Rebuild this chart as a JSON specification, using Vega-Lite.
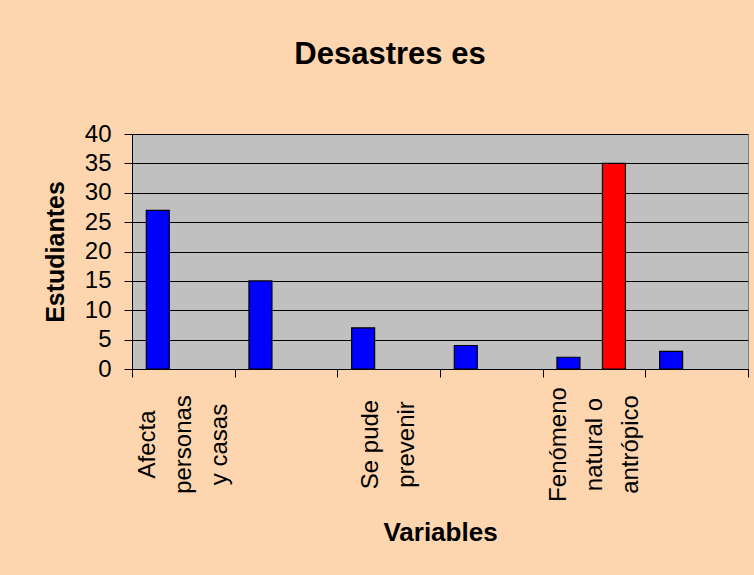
{
  "$schema": "https://vega.github.io/schema/vega-lite/v6.json",
  "autosize": {"type": "none"},
  "width": 616,
  "height": 235,
  "padding": {"left": 132, "top": 134, "right": 6, "bottom": 206},
  "background": "#FDD5AE",
  "title": {
    "text": "Desastres es",
    "font": "Liberation Sans",
    "fontSize": 31,
    "fontWeight": "bold",
    "color": "#000000",
    "anchor": "middle",
    "frame": "group",
    "baseline": "alphabetic",
    "dx": -50,
    "offset": 27
  },
  "data": {
    "values": [
      {"variable": "Afecta|personas|y casas", "serie": "Serie 1", "estudiantes": 27},
      {"variable": " ", "serie": "Serie 1", "estudiantes": 15},
      {"variable": "Se pude|prevenir", "serie": "Serie 1", "estudiantes": 7},
      {"variable": "  ", "serie": "Serie 1", "estudiantes": 4},
      {"variable": "Fenómeno|natural o|antrópico", "serie": "Serie 1", "estudiantes": 2},
      {"variable": "Fenómeno|natural o|antrópico", "serie": "Serie 2", "estudiantes": 35},
      {"variable": "   ", "serie": "Serie 1", "estudiantes": 3}
    ]
  },
  "mark": {"type": "bar", "stroke": "#000000", "strokeWidth": 1.2},
  "encoding": {
    "x": {
      "field": "variable",
      "type": "nominal",
      "sort": null,
      "scale": {"paddingInner": 0, "paddingOuter": 0},
      "axis": {
        "title": "Variables",
        "titleFont": "Liberation Sans",
        "titleFontSize": 26,
        "titleFontWeight": "bold",
        "titleColor": "#000000",
        "titlePadding": 18,
        "labelExpr": "isString(datum.value) ? split(datum.value, '|') : ''",
        "labelAngle": 270,
        "labelAlign": "center",
        "labelBaseline": "middle",
        "labelFont": "Liberation Sans",
        "labelFontSize": 24,
        "labelLineHeight": 36,
        "labelColor": "#000000",
        "labelPadding": 67,
        "labelOffset": {
          "condition": [
            {"test": "isString(datum.value) && length(split(datum.value, '|')) == 3", "value": -36},
            {"test": "isString(datum.value) && length(split(datum.value, '|')) == 2", "value": -18}
          ],
          "value": 0
        },
        "labelOverlap": false,
        "tickBand": "extent",
        "tickSize": 8,
        "tickColor": "#000000",
        "domainColor": "#000000",
        "grid": false
      }
    },
    "xOffset": {
      "field": "serie",
      "type": "nominal",
      "scale": {"domain": ["Serie 1", "Serie 2"], "paddingInner": 0.4945, "paddingOuter": 0.3758, "align": 0.418}
    },
    "y": {
      "field": "estudiantes",
      "type": "quantitative",
      "scale": {"domain": [0, 40], "nice": false},
      "axis": {
        "title": "Estudiantes",
        "titleFont": "Liberation Sans",
        "titleFontSize": 25,
        "titleFontWeight": "bold",
        "titleColor": "#000000",
        "titlePadding": 16,
        "values": [0, 5, 10, 15, 20, 25, 30, 35, 40],
        "labelFont": "Liberation Sans",
        "labelFontSize": 24,
        "labelColor": "#000000",
        "labelPadding": 13,
        "tickSize": 8,
        "tickColor": "#000000",
        "domainColor": "#000000",
        "grid": true,
        "gridColor": "#000000",
        "gridOpacity": 1,
        "gridWidth": 1
      }
    },
    "color": {
      "field": "serie",
      "type": "nominal",
      "scale": {"domain": ["Serie 1", "Serie 2"], "range": ["#0000FF", "#FF0000"]},
      "legend": null
    }
  },
  "config": {
    "view": {"fill": "#C0C0C0", "stroke": "#808080", "strokeWidth": 1}
  }
}
